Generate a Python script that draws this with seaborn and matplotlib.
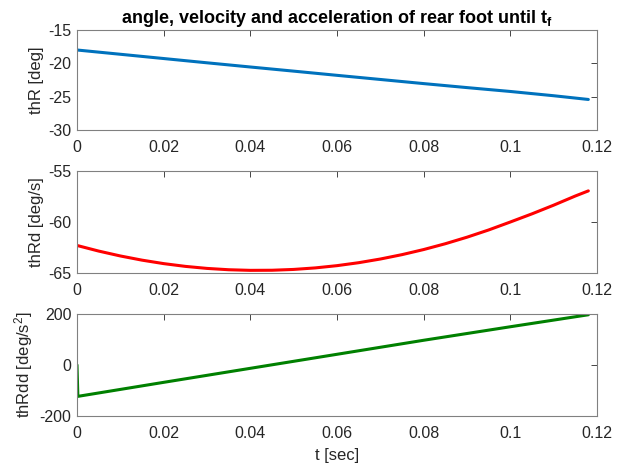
import numpy as np
import pandas as pd
import matplotlib
matplotlib.use("Agg")
import matplotlib.pyplot as plt
import matplotlib.ticker as mticker
import seaborn as sns

# ---- data ----
t_thR = [0.0, 0.01, 0.02, 0.03, 0.04, 0.05, 0.06, 0.07, 0.08, 0.09, 0.10, 0.11, 0.118]
thR = [-18.0, -18.64, -19.28, -19.92, -20.55, -21.17, -21.80, -22.42, -23.04, -23.64, -24.22, -24.86, -25.42]

t_thRd = [0.0, 0.005, 0.01, 0.015, 0.02, 0.025, 0.03, 0.035, 0.04, 0.045, 0.05, 0.055,
          0.06, 0.065, 0.07, 0.075, 0.08, 0.085, 0.09, 0.095, 0.10, 0.105, 0.11, 0.115, 0.118]
thRd = [-62.30, -62.85, -63.33, -63.74, -64.08, -64.35, -64.55, -64.68, -64.74, -64.73, -64.65, -64.50,
        -64.28, -63.99, -63.63, -63.20, -62.70, -62.13, -61.49, -60.78, -60.00, -59.20, -58.35, -57.45, -56.95]

t_thRdd = [0.0, 0.0002, 0.02, 0.04, 0.06, 0.08, 0.10, 0.118]
thRdd = [0.0, -123.0, -68.0, -13.0, 42.0, 97.0, 150.0, 197.0]

xticks = [0, 0.02, 0.04, 0.06, 0.08, 0.1, 0.12]
yticks_thR = [-30, -25, -20, -15]
yticks_thRd = [-65, -60, -55]
yticks_thRdd = [-200, 0, 200]

sns.set_theme(style="white")
plt.rcParams['font.family'] = ['Liberation Sans', 'DejaVu Sans']
plt.rcParams['mathtext.fontset'] = 'custom'
plt.rcParams['mathtext.rm'] = 'Liberation Sans'
plt.rcParams['mathtext.bf'] = 'Liberation Sans:bold'
plt.rcParams['mathtext.it'] = 'Liberation Sans:italic'

fig = plt.figure(figsize=(6.3, 4.7), dpi=100)
W, H = 630, 470
def box(x0, y0, x1, y1):
    return [x0 / W, 1 - y1 / H, (x1 - x0) / W, (y1 - y0) / H]

ax1 = fig.add_axes(box(77, 30, 597, 130))
ax2 = fig.add_axes(box(77, 171, 597, 273))
ax3 = fig.add_axes(box(77, 314, 597, 416))

df1 = pd.DataFrame({"t": t_thR, "v": thR})
df2 = pd.DataFrame({"t": t_thRd, "v": thRd})
df3 = pd.DataFrame({"t": t_thRdd, "v": thRdd})

sns.lineplot(data=df1, x="t", y="v", ax=ax1, color="#0072BD", lw=2.2, sort=False)
sns.lineplot(data=df2, x="t", y="v", ax=ax2, color="#FF0000", lw=2.2, sort=False)
sns.lineplot(data=df3, x="t", y="v", ax=ax3, color="#008000", lw=2.2, sort=False)

settings = [
    (ax1, yticks_thR, (-30, -15), "thR [deg]"),
    (ax2, yticks_thRd, (-65, -55), "thRd [deg/s]"),
    (ax3, yticks_thRdd, (-200, 200), r"thRdd [deg/s$^2$]"),
]
for ax, yt, yl, lab in settings:
    ax.set_xlim(0, 0.12)
    ax.set_ylim(*yl)
    ax.set_xticks(xticks)
    ax.set_yticks(yt)
    ax.xaxis.set_major_formatter(mticker.FormatStrFormatter('%g'))
    ax.yaxis.set_major_formatter(mticker.FormatStrFormatter('%g'))
    ax.tick_params(direction='in', length=4, width=0.6, colors='#262626',
                   labelsize=11.5, top=True, right=True)
    ax.tick_params(axis='x', pad=7)
    ax.tick_params(axis='y', pad=4)
    for s in ax.spines.values():
        s.set_color('#808080')
        s.set_linewidth(0.8)
    ax.set_ylabel(lab, fontsize=12, color='#262626', labelpad=3)
    ax.set_xlabel("")
    ax.grid(False)

ax3.set_xlabel("t [sec]", fontsize=12, color='#262626', labelpad=5)
ax1.set_title(r"angle, velocity and acceleration of rear foot until $\mathbf{t_f}$",
              fontsize=13, fontweight='bold', color='black', pad=5)

fig.savefig("out.png", dpi=100)
